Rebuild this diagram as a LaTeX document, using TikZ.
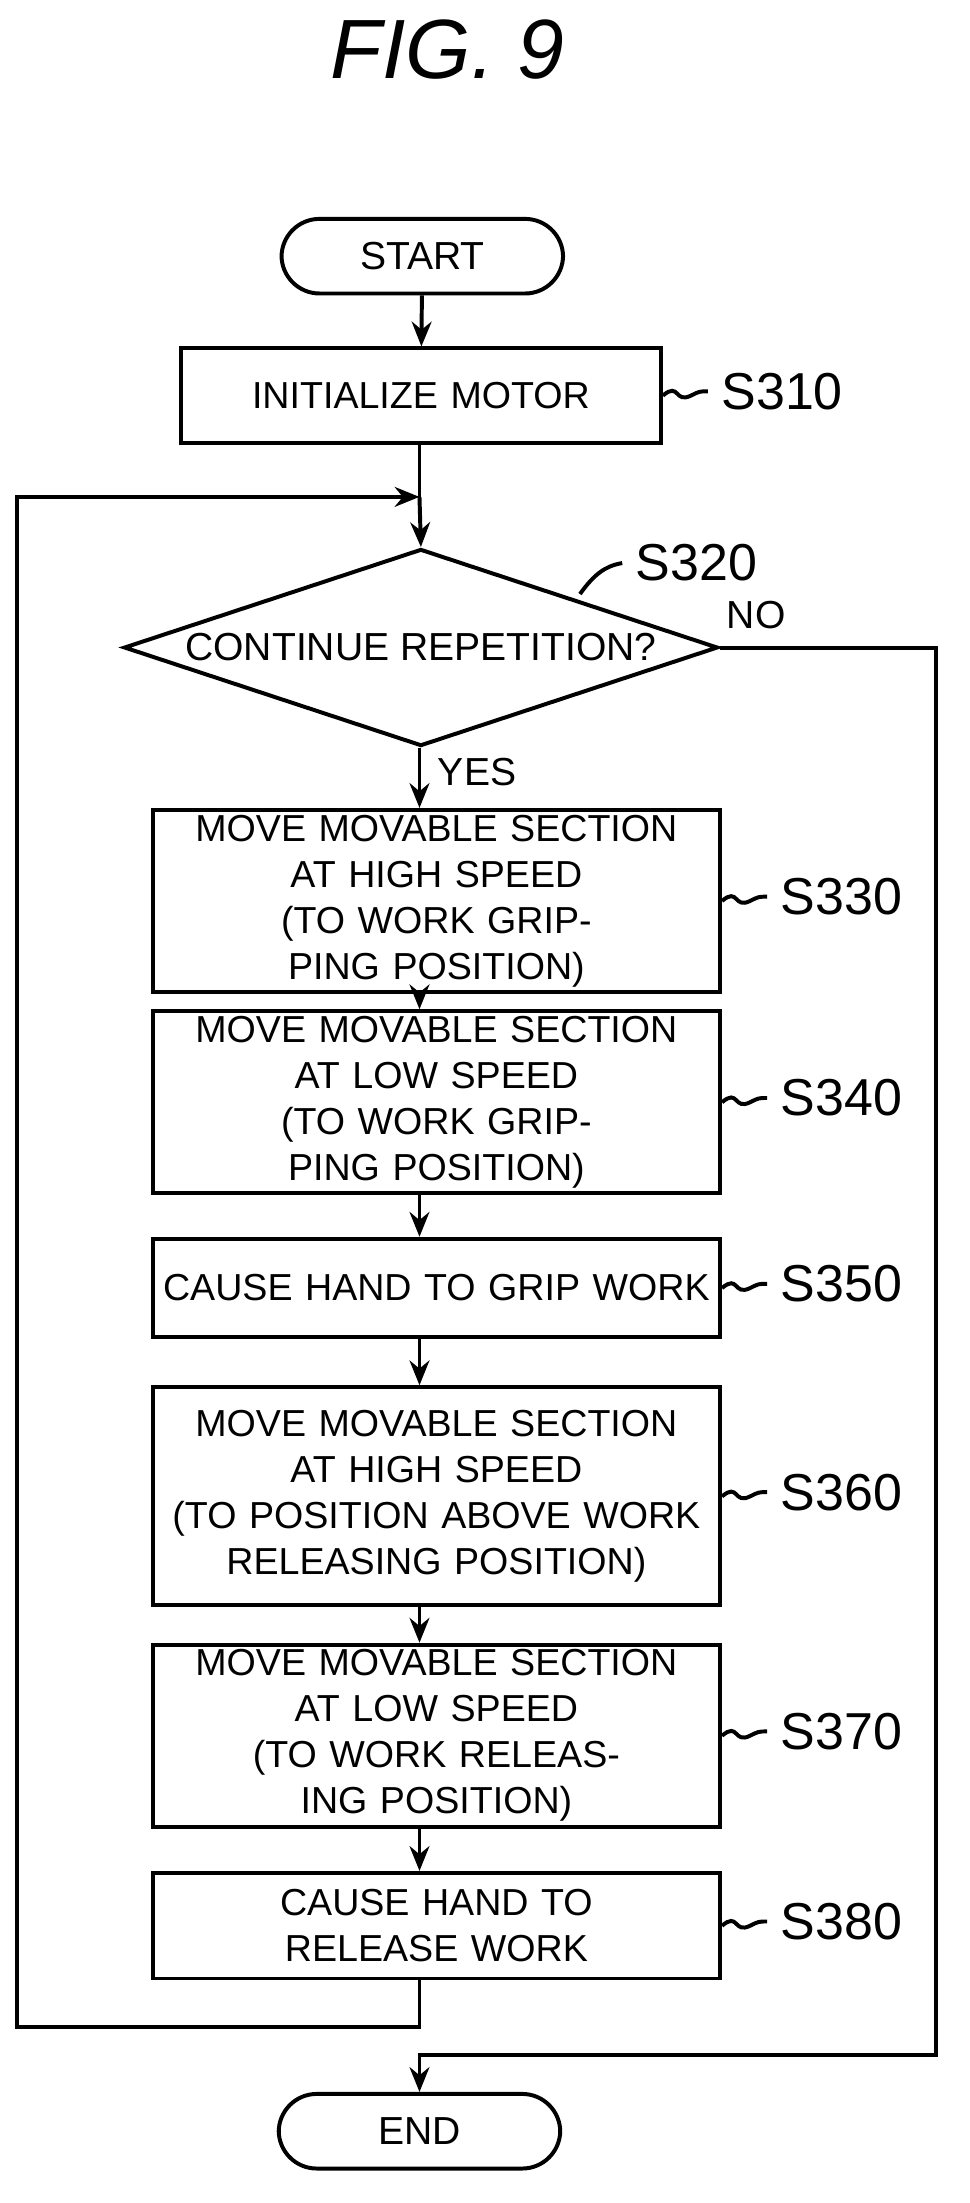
\documentclass[tikz,border=0pt]{standalone}
\usepackage{fontspec}
\setmainfont{Liberation Sans}
\usetikzlibrary{shapes.geometric,arrows.meta}
\tikzset{
 proc/.style={draw,thick,text width=3.96cm,align=center,inner sep=1pt,font=\fontsize{7.6}{9.3}\selectfont},
 term/.style={draw,thick,rounded corners=0.27cm,minimum width=2cm,minimum height=0.53cm},
 lbl/.style={font=\fontsize{10.5}{12}\selectfont},
 flow/.style={thick,-{Stealth[length=5pt,width=4pt]}}
}
\newcommand\tld[2]{\draw[thick] (#1) .. controls +(0.12,0.1) and +(-0.12,-0.06) .. ++(0.2,0) .. controls +(0.06,0.03) .. ++(0.12,0.03) node[lbl,right=-1pt] {#2};}
\begin{document}
\begin{tikzpicture}[font=\fontsize{7.9}{9.6}\selectfont]
\useasboundingbox (0,0) rectangle (6.89,-15.65);
\node[font=\fontsize{17}{20}\selectfont\itshape] (fig) at (3.18,-0.35) {FIG. 9};
\node[term] (start) at (3.0,-1.82) {START};
\node[proc,text width=3.34cm,minimum height=0.67cm] (s310) at (2.99,-2.81) {INITIALIZE MOTOR};
\coordinate (m) at (2.98,-3.53);
\node[draw,thick,diamond,aspect=3.0,minimum width=4.22cm,minimum height=1.4cm,inner sep=0pt] (s320) at (2.99,-4.6) {CONTINUE REPETITION?};
\node[proc,minimum height=1.04cm] (s330) at (3.1,-6.4) {MOVE MOVABLE SECTION\\AT HIGH SPEED\\(TO WORK GRIPPING POSITION)};
\node[proc,minimum height=1.05cm] (s340) at (3.1,-7.83) {MOVE MOVABLE SECTION\\AT LOW SPEED\\(TO WORK GRIPPING POSITION)};
\node[proc,minimum height=0.7cm] (s350) at (3.1,-9.15) {CAUSE HAND TO GRIP WORK};
\node[proc,minimum height=1.55cm] (s360) at (3.1,-10.63) {MOVE MOVABLE SECTION\\AT HIGH SPEED\\(TO POSITION ABOVE WORK\\RELEASING POSITION)};
\node[proc,minimum height=1.15cm] (s370) at (3.1,-12.33) {MOVE MOVABLE SECTION\\AT LOW SPEED\\(TO WORK RELEASING POSITION)};
\node[proc,minimum height=0.75cm] (s380) at (3.1,-13.68) {CAUSE HAND TO RELEASE WORK};
\node[term] (end) at (2.98,-15.14) {END};
\coordinate (r) at (6.65,-14.6);
\coordinate (b) at (2.98,-14.4);
% connectors
\draw[flow] (start) -- (s310);
\draw[thick] (s310.south -| m) -- (m);
\draw[flow] (m) -- (s320.north);
\draw[flow] (s320.south -| m) -- node[right,pos=0.4] {YES} (s330.north -| m);
\draw[flow] (s330.south -| m) -- (s340.north -| m);
\draw[flow] (s340.south -| m) -- (s350.north -| m);
\draw[flow] (s350.south -| m) -- (s360.north -| m);
\draw[flow] (s360.south -| m) -- (s370.north -| m);
\draw[flow] (s370.south -| m) -- (s380.north -| m);
\draw[flow] (s380.south -| m) -- (b) -| (0.12,-3.53) -- (m);
\draw[flow] (s320.east) node[above right,inner xsep=1pt] {NO} -| (r) -| (end.north);
% step labels
\tld{s310.east}{S310}
\draw[thick] (4.12,-4.22) .. controls (4.22,-4.08) and (4.3,-4.02) .. (4.42,-4.0) node[lbl,right=-1pt] {S320};
\tld{s330.east}{S330}
\tld{s340.east}{S340}
\tld{s350.east}{S350}
\tld{s360.east}{S360}
\tld{s370.east}{S370}
\tld{s380.east}{S380}
\end{tikzpicture}
\end{document}
